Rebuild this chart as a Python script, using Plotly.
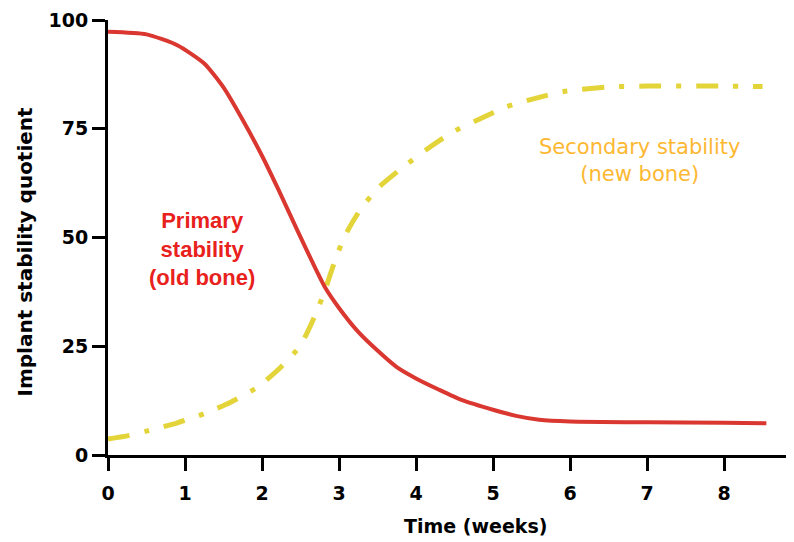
import plotly.graph_objects as go

# Primary stability (old bone) - red solid curve
weeks_primary = [0, 0.5, 0.9, 1.25, 1.5, 1.75, 2.0, 2.2, 2.45, 2.65, 2.82, 3.0, 3.25,
                 3.5, 3.75, 4.0, 4.3, 4.6, 5.0, 5.3, 5.6, 6.0, 7.0, 8.0, 8.55]
isq_primary = [97.3, 96.7, 94.2, 90.0, 84.5, 77.0, 68.8, 61.5, 52.0, 44.5, 38.5, 33.8, 28.3,
               24.0, 20.2, 17.6, 15.0, 12.6, 10.4, 9.0, 8.1, 7.7, 7.5, 7.4, 7.3]

# Secondary stability (new bone) - yellow dash-dot curve
weeks_secondary = [0, 0.25, 0.5, 0.9, 1.25, 1.6, 1.95, 2.25, 2.5, 2.7, 2.82, 2.95, 3.08,
                   3.28, 3.52, 3.84, 4.15, 4.47, 4.82, 5.17, 5.55, 5.93, 6.5, 7.0, 8.0, 8.5]
isq_secondary = [3.7, 4.4, 5.5, 7.4, 9.5, 12.2, 15.7, 20.3, 25.2, 32.5, 38.0, 44.8, 50.5,
                 56.5, 61.6, 66.3, 70.4, 74.2, 77.2, 80.0, 82.0, 83.6, 84.6, 84.8, 84.8, 84.7]

x_ticks = [0, 1, 2, 3, 4, 5, 6, 7, 8]
y_ticks = [0, 25, 50, 75, 100]

primary_label = "Primary<br>stability<br>(old bone)"
secondary_label = "Secondary stability<br>(new bone)"
x_title = "Time (weeks)"
y_title = "Implant stability quotient"

fig = go.Figure()
fig.add_trace(go.Scatter(
    x=weeks_secondary, y=isq_secondary, mode="lines",
    line=dict(color="#E3D43A", width=5, dash="22px,15px,5px,15px", shape="spline", smoothing=0.6),
    showlegend=False, hoverinfo="skip", cliponaxis=False,
))
fig.add_trace(go.Scatter(
    x=weeks_primary, y=isq_primary, mode="lines",
    line=dict(color="#D9372F", width=4, shape="spline", smoothing=0.6),
    showlegend=False, hoverinfo="skip", cliponaxis=False,
))

fig.update_layout(
    width=786, height=534,
    margin=dict(l=100, r=0, t=12, b=87),
    paper_bgcolor="white", plot_bgcolor="white",
    font=dict(family="DejaVu Sans", color="black"),
)
fig.update_xaxes(
    range=[0, 8.909], tickvals=x_ticks, ticktext=[str(v) for v in x_ticks],
    showgrid=False, zeroline=False, showline=True, linecolor="black", linewidth=3,
    ticks="outside", ticklen=13, tickwidth=3, tickcolor="black",
    tickfont=dict(family="DejaVu Sans", size=19, weight="bold", color="black"),
    ticklabelstandoff=6,
)
fig.update_yaxes(
    range=[0, 100], tickvals=y_ticks, ticktext=[str(v) for v in y_ticks],
    showgrid=False, zeroline=False, showline=True, linecolor="black", linewidth=3,
    ticks="outside", ticklen=13, tickwidth=3, tickcolor="black",
    tickfont=dict(family="DejaVu Sans", size=19, weight="bold", color="black"),
    ticklabelstandoff=0,
)

fig.add_annotation(
    x=1.227, y=47.4, xref="x", yref="y", text=primary_label, showarrow=False,
    font=dict(family="Liberation Sans", size=22, weight="bold", color="#E8211C"),
    align="center",
)
fig.add_annotation(
    x=6.905, y=67.8, xref="x", yref="y", text=secondary_label, showarrow=False,
    font=dict(family="DejaVu Sans", size=21, color="#FDB833"),
    align="center",
)
fig.add_annotation(
    x=0.5357, y=-0.1632, xref="paper", yref="paper", text=x_title, showarrow=False,
    xanchor="center", yanchor="middle",
    font=dict(family="DejaVu Sans", size=19, weight="bold", color="black"),
)
fig.add_annotation(
    x=-0.1224, y=0.4678, xref="paper", yref="paper", text=y_title, showarrow=False,
    textangle=-90, xanchor="center", yanchor="middle",
    font=dict(family="DejaVu Sans", size=20, weight="bold", color="black"),
)

fig.write_html("out.html")
